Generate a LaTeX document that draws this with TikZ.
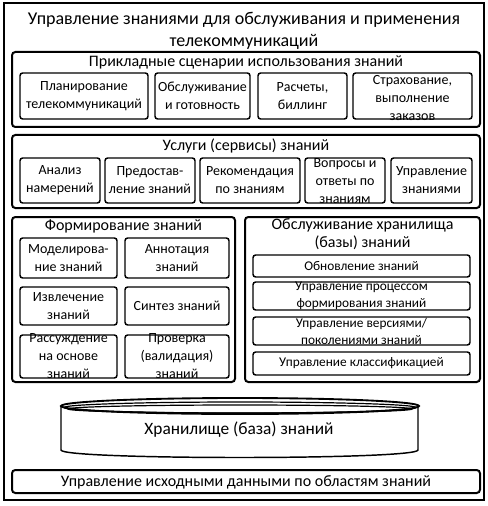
\documentclass[tikz,border=0pt]{standalone}
\usepackage{fontspec}
\setmainfont{Carlito}
\begin{document}
\begin{tikzpicture}[x=0.75pt,y=-0.75pt,
  frame/.style={draw, line width=1.8pt},
  secbox/.style={draw, line width=1.5pt, rounded corners=2.5pt},
  subbox/.style={draw, line width=1.1pt, rounded corners=2pt, inner sep=0pt},
  sz/.style 2 args={minimum width=#1*0.75pt, minimum height=#2*0.75pt},
  txt/.style={align=center, inner sep=0pt, font=\fontsize{10.5}{13.5}\selectfont},
  smalltxt/.style={align=center, inner sep=0pt, font=\fontsize{10}{12.8}\selectfont},
  sectitle/.style={align=center, inner sep=0pt, font=\fontsize{12}{14}\selectfont},
  bigtitle/.style={align=center, inner sep=0pt, font=\fontsize{13.5}{16}\selectfont}]
\useasboundingbox (0,0) rectangle (488,506);
\fill[white] (0,0) rectangle (488,506);
% outer frame
\draw[frame] (4,3) rectangle (484,500);
\node[bigtitle] (title) at (244,31) {Управление знаниями для обслуживания и применения\\телекоммуникаций};

% section 1
\draw[secbox] (12,52) rectangle (480,127);
\node[sectitle] (s1) at (246,62) {Прикладные сценарии использования знаний};
\node[subbox, sz={128}{46}] (a1) at (84,96) {};
\node[txt] (a1t) at (a1) {Планирование\\телекоммуникаций};
\node[subbox, sz={95}{46}] (a2) at (202.5,96) {};
\node[txt] (a2t) at (a2) {Обслуживание\\и готовность};
\node[subbox, sz={89}{46}] (a3) at (302.5,96) {};
\node[txt] (a3t) at (a3) {Расчеты,\\биллинг};
\node[subbox, sz={119}{46}] (a4) at (412.5,96) {};
\node[txt] (a4t) at (412.5,98) {Страхование,\\выполнение\\заказов};

% section 2
\draw[secbox] (12,135) rectangle (480,208);
\node[sectitle] (s2) at (246,146) {Услуги (сервисы) знаний};
\node[subbox, sz={80}{45}] (b1) at (60,180.5) {};
\node[txt] (b1t) at (b1) {Анализ\\намерений};
\node[subbox, sz={90}{45}] (b2) at (150,180.5) {};
\node[txt] (b2t) at (b2) {Предостав-\\ление знаний};
\node[subbox, sz={100}{45}] (b3) at (250,180.5) {};
\node[txt] (b3t) at (b3) {Рекомендация\\по знаниям};
\node[subbox, sz={80}{45}] (b4) at (345,180.5) {};
\node[txt] (b4t) at (345,181) {Вопросы и\\ответы по\\знаниям};
\node[subbox, sz={81}{45}] (b5) at (431.5,180.5) {};
\node[txt] (b5t) at (b5) {Управление\\знаниями};

% section 3
\draw[secbox] (12,217) rectangle (235,382);
\node[sectitle] (s3) at (123.5,226) {Формирование знаний};
\node[subbox, sz={97}{40}] (c1) at (68.5,258) {};
\node[txt] (c1t) at (c1) {Моделирова-\\ние знаний};
\node[subbox, sz={104}{40}] (c2) at (177,258) {};
\node[txt] (c2t) at (c2) {Аннотация\\знаний};
\node[subbox, sz={97}{38}] (c3) at (68.5,306) {};
\node[txt] (c3t) at (c3) {Извлечение\\знаний};
\node[subbox, sz={104}{38}] (c4) at (177,306) {};
\node[txt] (c4t) at (c4) {Синтез знаний};
\node[subbox, sz={97}{43}] (c5) at (68.5,356.5) {};
\node[txt] (c5t) at (c5) {Рассуждение\\на основе\\знаний};
\node[subbox, sz={104}{43}] (c6) at (177,356.5) {};
\node[txt] (c6t) at (c6) {Проверка\\(валидация)\\знаний};

% section 4
\draw[secbox] (245,217) rectangle (480,382);
\node[sectitle] (s4) at (362.5,234) {Обслуживание хранилища\\(базы) знаний};
\node[subbox, sz={217}{22}] (d1) at (361.5,266) {};
\node[smalltxt] (d1t) at (d1) {Обновление знаний};
\node[subbox, sz={217}{28}] (d2) at (361.5,296) {};
\node[smalltxt] (d2t) at (d2) {Управление процессом\\формирования знаний};
\node[subbox, sz={217}{28}] (d3) at (361.5,331) {};
\node[smalltxt] (d3t) at (d3) {Управление версиями/\\поколениями знаний};
\node[subbox, sz={217}{23}] (d4) at (361.5,363.5) {};
\node[smalltxt] (d4t) at (d4) {Управление классификацией};

% cylinder (knowledge base)
\draw[line width=1.1pt, fill=white] (61,406) -- (61,450)
  .. controls (61,460) and (418,460) .. (418,450) -- (418,406);
\draw[line width=1.4pt] (240,406) ellipse [x radius=179, y radius=8];
\draw[line width=0.9pt] (240,407.5) ellipse [x radius=176, y radius=5.5];
\draw[line width=0.9pt] (240,409) ellipse [x radius=172, y radius=4];
\node[bigtitle, font=\fontsize{13}{16}\selectfont] (kb) at (239,430) {Хранилище (база) знаний};

% bottom box
\draw[secbox] (12,470) rectangle (480,493);
\node[sectitle] (e1) at (246,482) {Управление исходными данными по областям знаний};
\end{tikzpicture}
\end{document}
